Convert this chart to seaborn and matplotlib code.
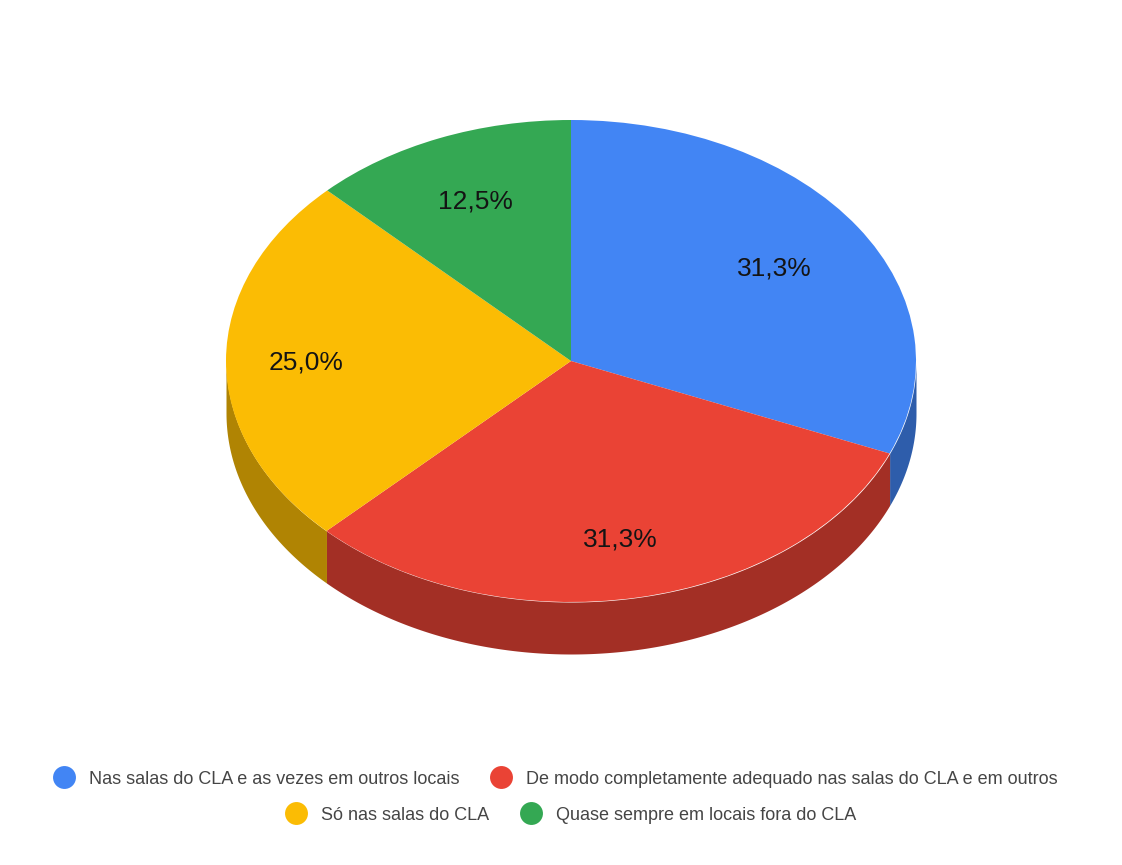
import matplotlib
matplotlib.use("Agg")
import matplotlib.pyplot as plt
from matplotlib.lines import Line2D
import numpy as np
import seaborn as sns

categories = [
    "Nas salas do CLA e as vezes em outros locais",
    "De modo completamente adequado nas salas do CLA e em outros",
    "Só nas salas do CLA",
    "Quase sempre em locais fora do CLA",
]
shares = [31.3, 31.3, 25.0, 12.5]
top_colors = ["#4285F4", "#EA4335", "#FBBC04", "#34A853"]
wall_colors = ["#2E5DAB", "#A32F25", "#B08403", "#24753A"]
label_radii = [0.71, 0.745, 0.768, 0.726]

sns.set_theme(style="white")
plt.rcParams["font.family"] = ["Liberation Sans", "DejaVu Sans"]

W, H = 1122, 865
cx, cy, rx, ry, depth = 571, 361, 345, 241, 52

fig = plt.figure(figsize=(W / 100, H / 100), dpi=100, facecolor="white")
ax = fig.add_axes([(cx - rx) / W, 1 - (cy + ry) / H, 2 * rx / W, 2 * ry / H])

# Side wall of the disc: only the part of each slice's rim facing the viewer.
fractions = np.array(shares) / sum(shares)
edges = np.concatenate([[0], np.cumsum(fractions)]) * 2 * np.pi
drop = depth / ry
for start, stop, color in zip(edges[:-1], edges[1:], wall_colors):
    lo, hi = max(start, np.pi / 2), min(stop, 3 * np.pi / 2)
    if hi <= lo:
        continue
    theta = np.linspace(lo, hi, 200)
    x, y = np.sin(theta), np.cos(theta)
    ax.fill_between(x, y, y - drop, color=color, lw=0, clip_on=False, zorder=1)

wedges, _, pct_texts = ax.pie(
    shares,
    colors=top_colors,
    startangle=90,
    counterclock=False,
    radius=1,
    autopct=lambda p: "",
    wedgeprops={"linewidth": 0, "zorder": 2},
)
label_shift = 2 / ry
for wedge, text, value, radius in zip(wedges, pct_texts, shares, label_radii):
    mid = np.deg2rad((wedge.theta1 + wedge.theta2) / 2)
    text.set_position((radius * np.cos(mid), radius * np.sin(mid) - label_shift))
    text.set_text(f"{value:.1f}%".replace(".", ","))
    text.set_fontsize(19)
    text.set_color("#141414")
    text.set_zorder(3)

ax.set_aspect("auto")
ax.set_xlim(-1, 1)
ax.set_ylim(-1, 1)
ax.axis("off")


def legend_row(indices, center_x, center_y):
    handles = [
        Line2D([], [], marker="o", linestyle="none", markersize=16.5,
               markerfacecolor=top_colors[i], markeredgewidth=0)
        for i in indices
    ]
    fig.legend(
        handles,
        [categories[i] for i in indices],
        ncol=len(indices),
        loc="center",
        bbox_to_anchor=(center_x / W, 1 - center_y / H),
        frameon=False,
        fontsize=13,
        labelcolor="#454545",
        handletextpad=0.8,
        columnspacing=1.7,
        borderpad=0,
        handlelength=1.2,
    )


legend_row([0, 1], 555.5, 779)
legend_row([2, 3], 571, 815)

fig.savefig("out.png", dpi=100, facecolor="white")
